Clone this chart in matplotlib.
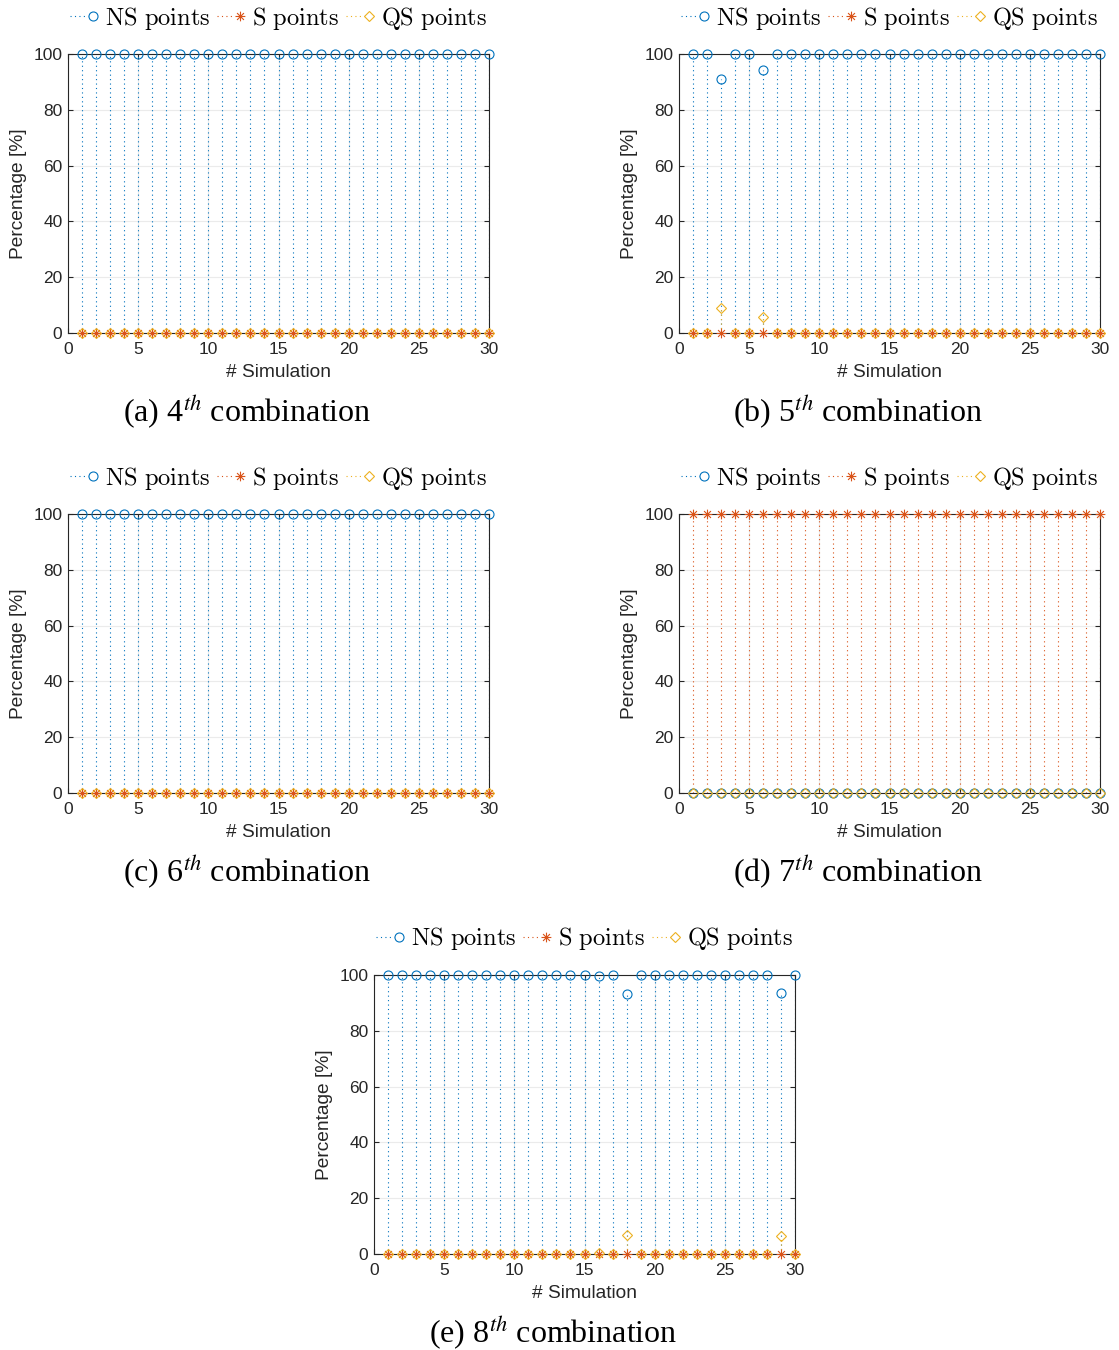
import numpy as np
import matplotlib
matplotlib.use("Agg")
import matplotlib.pyplot as plt
from matplotlib.lines import Line2D
from matplotlib.legend_handler import HandlerBase
from matplotlib.path import Path
from matplotlib.font_manager import FontProperties

# ---------------- data ----------------
sims = list(range(1, 31))

ns_a = [100] * 30
s_a = [0] * 30
qs_a = [0] * 30

ns_b = [100, 100, 91.0, 100, 100, 94.2] + [100] * 24
s_b = [0] * 30
qs_b = [0, 0, 9.0, 0, 0, 5.8] + [0] * 24

ns_c = [100] * 30
s_c = [0] * 30
qs_c = [0] * 30

ns_d = [0] * 30
s_d = [100] * 30
qs_d = [0] * 30

ns_e = [100] * 15 + [99.5, 100, 93.2] + [100] * 10 + [93.5, 100]
s_e = [0] * 30
qs_e = [0] * 15 + [0.5, 0, 6.8] + [0] * 10 + [6.5, 0]

captions = ["(a) 4$^{th}$ combination", "(b) 5$^{th}$ combination",
            "(c) 6$^{th}$ combination", "(d) 7$^{th}$ combination",
            "(e) 8$^{th}$ combination"]
legend_labels = [r"$\mathrm{NS\ points}$", r"$\mathrm{S\ points}$", r"$\mathrm{QS\ points}$"]
xticks = [0, 5, 10, 15, 20, 25, 30]
yticks = [0, 20, 40, 60, 80, 100]

panels = [(ns_a, s_a, qs_a), (ns_b, s_b, qs_b), (ns_c, s_c, qs_c),
          (ns_d, s_d, qs_d), (ns_e, s_e, qs_e)]

# ---------------- style ----------------
C_NS = "#0072BD"
C_S = "#D95319"
C_QS = "#EDB120"

ast_path = Path(
    [(-1, 0), (1, 0), (0, -1), (0, 1),
     (-0.7071, -0.7071), (0.7071, 0.7071), (-0.7071, 0.7071), (0.7071, -0.7071)],
    [Path.MOVETO, Path.LINETO] * 4)

series_style = [
    dict(color=C_NS, marker="o", ms=6.5),
    dict(color=C_S, marker=ast_path, ms=7.0),
    dict(color=C_QS, marker="D", ms=5.2),
]
STEM_LS = (0, (1, 3))

W, H = 1119, 1350
fig = plt.figure(figsize=(W / 100, H / 100), dpi=100)

# axes pixel boxes: left, top, right, bottom
boxes = [(68, 54, 489, 333), (679, 54, 1100, 333),
         (68, 514, 489, 793), (679, 514, 1100, 793),
         (374, 975, 795, 1254)]

tick_font = FontProperties(family=["Liberation Sans", "DejaVu Sans"], size=12.5)
label_font = FontProperties(family=["Liberation Sans", "DejaVu Sans"], size=13.75)


class StemHandler(HandlerBase):
    def create_artists(self, legend, orig_handle, xdescent, ydescent,
                       width, height, fontsize, trans):
        y = height / 2 - ydescent
        x0 = -xdescent
        line = Line2D([x0, x0 + width * 0.62], [y, y], color=orig_handle.get_color(),
                      linestyle=STEM_LS, lw=0.8)
        mk = Line2D([x0 + width * 0.8], [y], color=orig_handle.get_color(),
                    marker=orig_handle.get_marker(), ms=orig_handle.get_markersize(),
                    mfc="none", mew=0.8, ls="none")
        line.set_transform(trans)
        mk.set_transform(trans)
        return [line, mk]


for idx, ((l, t, r, b), data) in enumerate(zip(boxes, panels)):
    ax = fig.add_axes([l / W, 1 - b / H, (r - l) / W, (b - t) / H])
    handles = []
    for vals, st in zip(data, series_style):
        ax.vlines(sims, 0, vals, colors=st["color"], linestyles=STEM_LS,
                  lw=0.8, zorder=2)
        h, = ax.plot(sims, vals, ls="none", marker=st["marker"], ms=st["ms"],
                     mfc="none", mec=st["color"], mew=0.8, color=st["color"],
                     zorder=3, clip_on=False)
        handles.append(h)
    ax.set_xlim(0, 30)
    ax.set_ylim(0, 100)
    ax.set_xticks(xticks)
    ax.set_yticks(yticks)
    ax.grid(True, color="#ebebeb", lw=0.8, zorder=0)
    ax.set_axisbelow(True)
    ax.tick_params(direction="in", length=3.6, width=0.8, top=True, right=True,
                   color="#262626")
    ax.tick_params(axis="x", pad=6.5)
    ax.tick_params(axis="y", pad=4)
    for lab in ax.get_xticklabels() + ax.get_yticklabels():
        lab.set_fontproperties(tick_font)
        lab.set_color("#262626")
    for sp in ax.spines.values():
        sp.set_color("#262626")
        sp.set_linewidth(0.8)
    ax.set_xlabel("# Simulation", fontproperties=label_font, color="#262626")
    ax.set_ylabel("Percentage [%]", fontproperties=label_font, color="#262626")
    ax.xaxis.set_label_coords(0.5, -31 / (b - t))
    ax.yaxis.set_label_coords(-41 / (r - l), 0.5)

    leg_prop = FontProperties(family="DejaVu Serif", size=17.6, math_fontfamily="cm")
    ax.legend(handles, legend_labels, handler_map={Line2D: StemHandler()},
              loc="center", bbox_to_anchor=(0.5, 1 + 36 / (b - t)), ncol=3,
              frameon=False, prop=leg_prop, handlelength=1.2, handletextpad=0.25,
              columnspacing=0.25, borderaxespad=0, borderpad=0)

    cx = (l + r) / 2 - 31
    cy = b + 79
    fig.text(cx / W, 1 - cy / H, captions[idx], ha="center", va="center",
             fontsize=23, family=["Liberation Serif", "DejaVu Serif"],
             math_fontfamily="stix")

fig.savefig("out.png", dpi=100)
